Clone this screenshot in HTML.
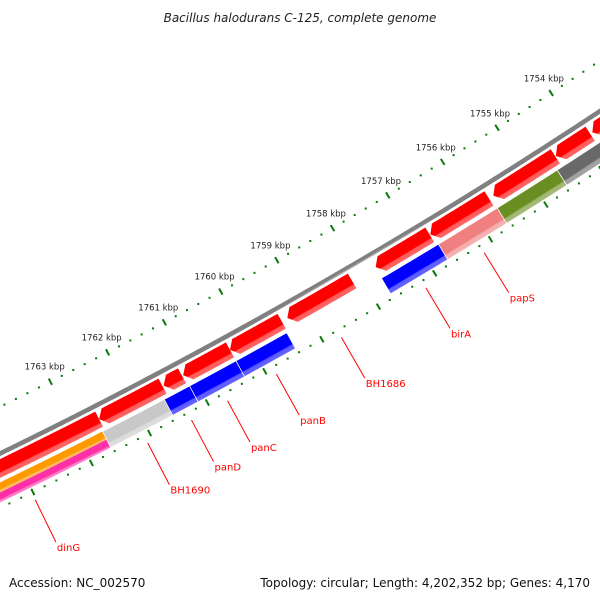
<!DOCTYPE html>
<html><head><meta charset="utf-8"><style>
html,body{margin:0;padding:0;background:#fff;}
svg{display:block;font-family:"DejaVu Sans","Liberation Sans",sans-serif;}
</style></head><body>
<svg id="map" width="600" height="600" viewBox="0 0 600 600" xmlns="http://www.w3.org/2000/svg">
<defs id="defs"></defs>
<text x="300" y="22" text-anchor="middle" font-size="12" font-style="italic" fill="#222">Bacillus halodurans C-125, complete genome</text>
<g id="plot"></g>
<text x="9" y="587" font-size="12" fill="#111">Accession: NC_002570</text>
<text x="590" y="587" font-size="12" text-anchor="end" fill="#111">Topology: circular; Length: 4,202,352 bp; Genes: 4,170</text>
</svg>
<script>
// ---- data (kbp) ----
const fwdStarts = [1765.0, 1762.59, 1761.47, 1761.13, 1760.31, 1759.30, 1757.73, 1756.75, 1755.61, 1754.47, 1753.80];
const fwdEnds   = [1762.59, 1761.49, 1761.15, 1760.31, 1759.40, 1758.15, 1756.76, 1755.69, 1754.48, 1753.84, 1752.80];
const fwdNames  = ["", "", "", "", "", "BH1686", "", "", "", "", ""];
const cogStarts = [1765.41, 1762.63, 1761.56, 1761.12, 1760.31, 1757.74, 1756.72, 1755.66, 1754.57];
const cogEnds   = [1762.63, 1761.56, 1761.12, 1760.31, 1759.42, 1756.72, 1755.66, 1754.57, 1753.00];
const cogColors = ["#ff9900", "#c8c8c8", "#0000ff", "#0000ff", "#0000ff", "#0000ff", "#f08080", "#6b8e23", "#696969"];
const cogNames  = ["dinG", "BH1690", "panD", "panC", "panB", "birA", "papS", "", ""];
const tickStart = 1750, tickEnd = 1768;
const labelKbp   = [1754, 1755, 1756, 1757, 1758, 1759, 1760, 1761, 1762, 1763];
const tickLabels = ["1754 kbp","1755 kbp","1756 kbp","1757 kbp","1758 kbp","1759 kbp","1760 kbp","1761 kbp","1762 kbp","1763 kbp"];

// ---- geometry ----
const CX = -2310, CY = -4291;
const R0 = 5277;
const A0 = 56.87, DPK = 0.7033;
function ang(k){ return (A0 + (k - 1754) * DPK) * Math.PI / 180; }
function pt(k, r){ const a = ang(k); return [CX + r * Math.cos(a), CY + r * Math.sin(a)]; }
const NS = "http://www.w3.org/2000/svg";
const plot = document.getElementById('plot');
const defs = document.getElementById('defs');
let gid = 0;
function mk(tag, attrs, parent){ const e = document.createElementNS(NS, tag); for (const k in attrs) e.setAttribute(k, attrs[k]); (parent || plot).appendChild(e); return e; }
function lighten(hex, f){ const n = parseInt(hex.slice(1), 16); let r = n >> 16, g = (n >> 8) & 255, b = n & 255;
  r = Math.round(r + (255 - r) * f); g = Math.round(g + (255 - g) * f); b = Math.round(b + (255 - b) * f);
  return "rgb(" + r + "," + g + "," + b + ")"; }
function grad(col, kmid, r1, r2){
  const id = "g" + (gid++); const p1 = pt(kmid, r1), p2 = pt(kmid, r2);
  const g = mk('linearGradient', {id: id, gradientUnits: 'userSpaceOnUse', x1: p1[0], y1: p1[1], x2: p2[0], y2: p2[1]}, defs);
  mk('stop', {offset: '0', 'stop-color': col}, g);
  mk('stop', {offset: '0.68', 'stop-color': col}, g);
  mk('stop', {offset: '0.74', 'stop-color': lighten(col, 0.35)}, g);
  mk('stop', {offset: '1', 'stop-color': lighten(col, 0.4)}, g);
  return "url(#" + id + ")";
}
function bandPts(k1, k2, r1, r2){
  const pts = []; const n = Math.max(2, Math.ceil(Math.abs(k2 - k1) / 0.05));
  for (let i = 0; i <= n; i++){ pts.push(pt(k1 + (k2 - k1) * i / n, r1)); }
  for (let i = n; i >= 0; i--){ pts.push(pt(k1 + (k2 - k1) * i / n, r2)); }
  return pts;
}
function poly(pts){ return pts.map(p => p[0].toFixed(2) + "," + p[1].toFixed(2)).join(" "); }

const bb = mk('polygon', {points: poly(bandPts(1751, 1768, R0 - 2.3, R0 + 2.3)), fill: grad("#808080", 1758, R0 - 2.3, R0 + 2.3)});



const F1 = R0 + 5, F2 = R0 + 22, TIP = 0.11;
for (let i = 0; i < fwdStarts.length; i++){
  const hi = fwdStarts[i], lo = fwdEnds[i];
  const body = bandPts(lo, hi - TIP, F1, F2);
  const half = body.length / 2;
  const pts = body.slice(0, half).concat([pt(hi, (F1 + F2) / 2)]).concat(body.slice(half));
  const e = mk('polygon', {points: poly(pts), fill: grad("#ff0000", (hi + lo) / 2, F1, F2)});
  
  
}

const C1 = R0 + 26, C2 = R0 + 44;
for (let i = 0; i < cogStarts.length; i++){
  const hi = cogStarts[i], lo = cogEnds[i];
  if (i === 0){
    const mid = (C1 + C2) / 2;
    const a = mk('polygon', {points: poly(bandPts(lo, hi, C1, mid)), fill: grad("#ff9900", (hi + lo) / 2, C1, mid)});
    
    
    const b = mk('polygon', {points: poly(bandPts(lo, hi, mid, C2)), fill: grad("#ff2fa8", (hi + lo) / 2, mid, C2)});
    
    
    continue;
  }
  const e = mk('polygon', {points: poly(bandPts(lo, hi, C1, C2)), fill: grad(cogColors[i], (hi + lo) / 2, C1, C2), stroke: '#fff', 'stroke-width': '0.7'});
  
  
}

function ring(r, withLabels){
  for (let s = tickStart * 5; s <= tickEnd * 5; s++){
    const k = s / 5;
    if (s % 5 === 0){
      const p1 = pt(k, r - 3.5), p2 = pt(k, r + 3.5);
      const t = mk('line', {x1: p1[0], y1: p1[1], x2: p2[0], y2: p2[1], stroke: '#0a7a0a', 'stroke-width': '2'});
      
      
    } else {
      const p = pt(k, r);
      const d = mk('rect', {x: p[0] - 1, y: p[1] - 1, width: 2, height: 2, fill: '#0a7a0a'});
      
      
    }
  }
  if (withLabels){
    for (let i = 0; i < labelKbp.length; i++){
      const lp = pt(labelKbp[i], r - 17);
      const lb = mk('text', {x: lp[0] + 2, y: lp[1] + 3, 'text-anchor': 'middle', 'font-size': '8.5', fill: '#222'});
      lb.textContent = tickLabels[i];
      
      
    }
  }
}
ring(R0 - 42, true);
ring(R0 + 49, false);

function label(name, k){
  const p1 = pt(k, R0 + 57), p2 = pt(k, R0 + 104);
  const l = mk('line', {x1: p1[0], y1: p1[1], x2: p2[0], y2: p2[1], stroke: '#ff0000', 'stroke-width': '1'});
  
  
  const t = mk('text', {x: p2[0] + 1, y: p2[1] + 9, 'font-size': '10', fill: '#ff0000'});
  t.textContent = name;
  
  
}
for (let i = 0; i < cogNames.length; i++){ if (cogNames[i]) label(cogNames[i], (cogStarts[i] + cogEnds[i]) / 2); }
for (let i = 0; i < fwdNames.length; i++){ if (fwdNames[i]) label(fwdNames[i], (fwdStarts[i] + fwdEnds[i]) / 2); }
</script>
</body></html>
